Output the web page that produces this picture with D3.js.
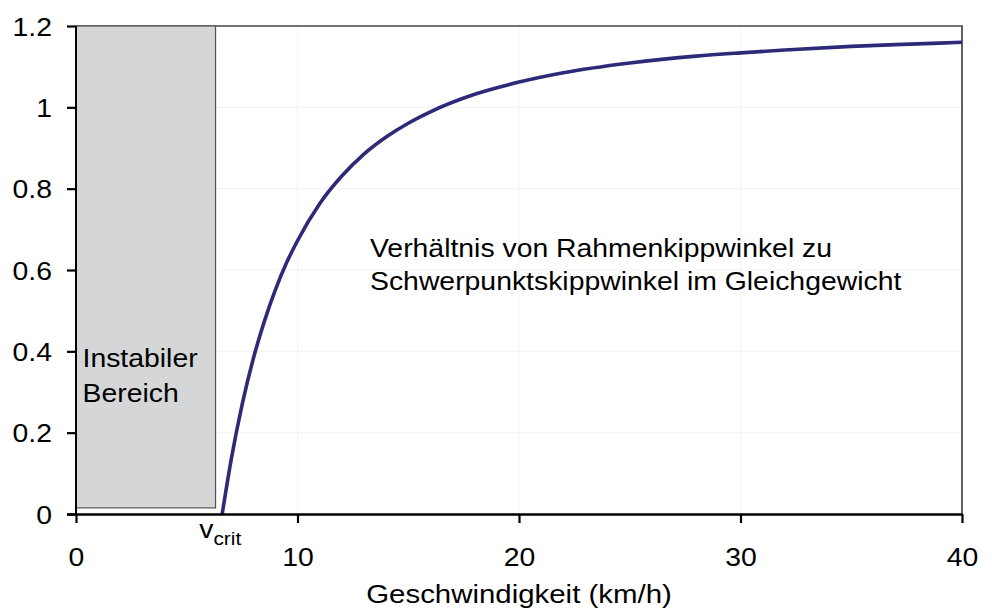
<!DOCTYPE html>
<html>
<head>
<meta charset="utf-8">
<script src="https://cdn.jsdelivr.net/npm/d3@7"></script>
<style>
  html, body { margin: 0; padding: 0; background: #fff; }
  svg { display: block; }
  text { font-family: "Liberation Sans", Arial, sans-serif; fill: #000; }
</style>
</head>
<body>
<svg id="chart" width="992" height="610"></svg>
<script>
// ---- data ----
const speed = [6.6, 7, 7.5, 8, 8.5, 9, 9.5, 10, 11, 12, 13, 14, 15, 16, 18, 20, 22, 25, 28, 30, 32, 35, 38, 40];
const ratio = [0, 0.132, 0.269, 0.381, 0.473, 0.551, 0.617, 0.672, 0.763, 0.831, 0.885, 0.927, 0.961, 0.989, 1.032, 1.062, 1.085, 1.109, 1.126, 1.134, 1.141, 1.150, 1.156, 1.160];
const xTicks = [0, 10, 20, 30, 40];
const yTicks = [0, 0.2, 0.4, 0.6, 0.8, 1, 1.2];
const unstableRange = [0, 6.3];      // km/h
const unstableValues = [0.015, 1.2];
const vCrit = 6.6;
const xTitle = "Geschwindigkeit (km/h)";
const annotationLines = ["Verhältnis von Rahmenkippwinkel zu", "Schwerpunktskippwinkel im Gleichgewicht"];
const unstableLines = ["Instabiler", "Bereich"];

// ---- layout ----
const svg = d3.select("#chart");
const x = d3.scaleLinear().domain([0, 40]).range([76, 962]);
const y = d3.scaleLinear().domain([0, 1.2]).range([514, 26]);
const FS = 25.8, SX = 1.1;

// faint gridlines
svg.append("g").selectAll("line.gx").data(xTicks.slice(1, -1)).join("line")
  .attr("x1", d => x(d)).attr("x2", d => x(d)).attr("y1", y(1.2)).attr("y2", y(0))
  .attr("stroke", "#f3f3f3").attr("stroke-width", 1);
svg.append("g").selectAll("line.gy").data(yTicks.slice(1, -1)).join("line")
  .attr("x1", x(0)).attr("x2", x(40)).attr("y1", d => y(d)).attr("y2", d => y(d))
  .attr("stroke", "#f3f3f3").attr("stroke-width", 1);

// frame top / right
svg.append("path")
  .attr("d", `M${x(0)},${y(1.2)}H${x(40)}V${y(0)}`)
  .attr("fill", "none").attr("stroke", "#454545").attr("stroke-width", 1.7);

// unstable region
svg.append("rect")
  .attr("x", x(unstableRange[0])).attr("y", y(unstableValues[1]))
  .attr("width", x(unstableRange[1]) - x(unstableRange[0]))
  .attr("height", y(unstableValues[0]) - y(unstableValues[1]))
  .attr("fill", "#d5d6d8").attr("stroke", "#555").attr("stroke-width", 1.2);

// curve
const line = d3.line().x(d => x(d[0])).y(d => y(d[1])).curve(d3.curveMonotoneX);
svg.append("path")
  .datum(speed.map((s, i) => [s, ratio[i]]))
  .attr("d", line)
  .attr("fill", "none").attr("stroke", "#2d2b78").attr("stroke-width", 3.6)
  .attr("stroke-linejoin", "round");

// axes
const xAxis = d3.axisBottom(x).tickValues(xTicks).tickFormat(d3.format("d")).tickSize(9).tickPadding(0);
const yAxis = d3.axisLeft(y).tickValues(yTicks).tickFormat(d => d3.format("")(d)).tickSize(9).tickPadding(0);

const gx = svg.append("g").attr("transform", `translate(0,${y(0)})`).call(xAxis);
gx.select(".domain").attr("d", `M${x(0) - 9},0.5H${x(40)}`).attr("stroke", "#000").attr("stroke-width", 2.4);
gx.selectAll(".tick line").attr("stroke", "#000").attr("stroke-width", 2.2);
gx.selectAll(".tick text").attr("y", 0).attr("dy", 0)
  .attr("transform", `translate(0,52) scale(${SX},1)`)
  .attr("font-size", FS).attr("font-family", "Liberation Sans, Arial, sans-serif");

const gy = svg.append("g").attr("transform", `translate(${x(0)},0)`).call(yAxis);
gy.select(".domain").attr("d", `M0,${y(1.2)}V${y(0)}`).attr("stroke", "#000").attr("stroke-width", 2);
gy.selectAll(".tick line").attr("stroke", "#000").attr("stroke-width", 2.2);
gy.selectAll(".tick text").attr("x", 0).attr("dy", "0.35em")
  .attr("transform", `translate(-24,0) scale(${SX},1)`)
  .attr("font-size", FS).attr("font-family", "Liberation Sans, Arial, sans-serif");

// helper for stretched text
function label(xp, yp, txt, anchor, sx) {
  return svg.append("text")
    .attr("transform", `translate(${xp},${yp}) scale(${sx || SX},1)`)
    .attr("text-anchor", anchor || "start")
    .attr("font-size", FS)
    .text(txt);
}

// axis title
label((x(0) + x(40)) / 2, 603, xTitle, "middle", 1.14);

// unstable region label
unstableLines.forEach((t, i) => label(x(0) + 6.5, 367 + i * 34.5, t));

// annotation
annotationLines.forEach((t, i) => label(370, 256.5 + i * 33.5, t));

// v_crit
const vt = svg.append("text")
  .attr("transform", `translate(${x(vCrit) - 23},538) scale(${SX},1)`)
  .attr("font-size", FS);
vt.append("tspan").text("v");
vt.append("tspan").attr("font-size", 19).attr("dy", 7).text("crit");
</script>
</body>
</html>
